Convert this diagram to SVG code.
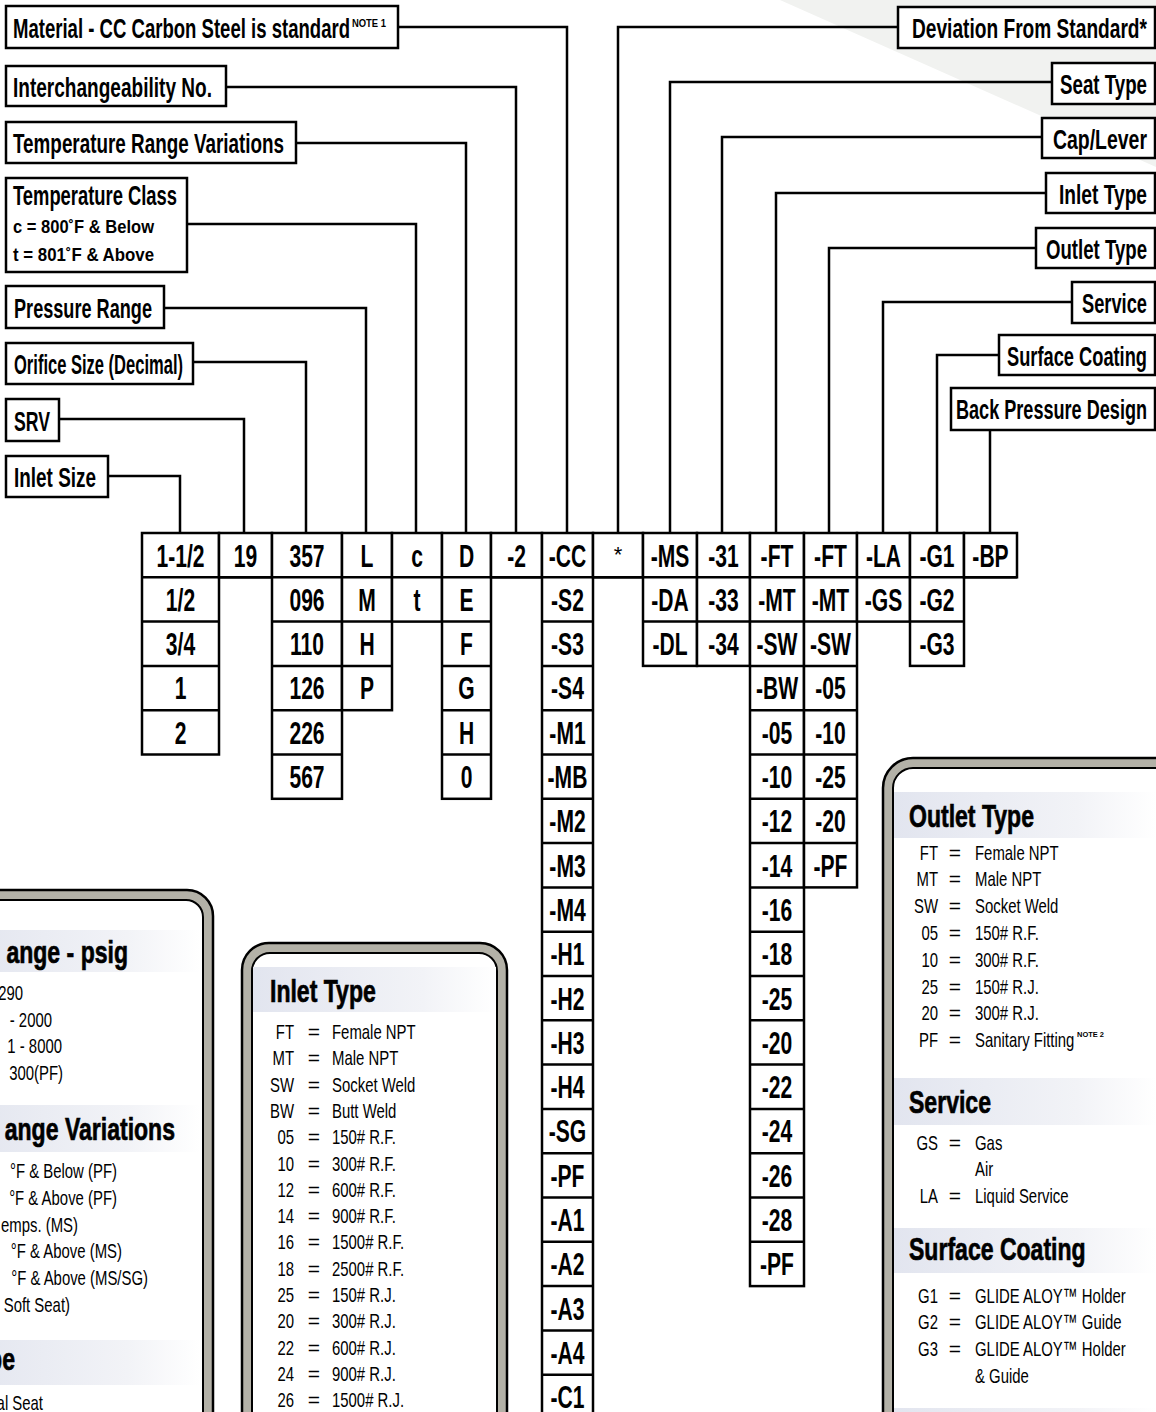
<svg xmlns="http://www.w3.org/2000/svg" width="1156" height="1412" viewBox="0 0 1156 1412">
<defs>
<style>
text{font-family:"Liberation Sans",Arial,sans-serif;fill:#000}
.hb{fill:#fff;stroke:#000;stroke-width:2.5}
.hd{font-weight:bold;font-size:27px}
.sub{font-weight:bold;font-size:19px}
.note{font-weight:bold;font-size:10px}
.cell{font-weight:bold;font-size:31px;text-anchor:middle}
.ast{font-size:22px;text-anchor:middle}
.con{fill:none;stroke:#000;stroke-width:2.5}
.cb{fill:#fff;stroke:#000;stroke-width:2.5}
.div{fill:none;stroke:#000;stroke-width:2.5}
.lo{fill:#b3b1a7;stroke:#000;stroke-width:2.5}
.li{fill:#fff;stroke:#000;stroke-width:2}
.lt{font-weight:bold;font-size:32px;stroke:#000;stroke-width:0.7}
.le{font-size:21px}
.eq{font-size:21px;text-anchor:middle}
.end{text-anchor:end}
.sup{font-weight:bold;font-size:8px}
</style>
<linearGradient id="band" x1="0" y1="0" x2="1" y2="0">
<stop offset="0" stop-color="#e2e5ef"/>
<stop offset="0.7" stop-color="#f2f3f7"/>
<stop offset="1" stop-color="#ffffff"/>
</linearGradient>
</defs>
<rect width="1156" height="1412" fill="#fff"/>
<polygon points="780,0 1156,0 1156,167" fill="#f1f2f0"/>

<g id="connectors">
<path class="con" d="M398 27H567V533"/>
<path class="con" d="M226 87H516V533"/>
<path class="con" d="M296 143H466V533"/>
<path class="con" d="M187 224H416V533"/>
<path class="con" d="M164 308H366V533"/>
<path class="con" d="M193 362H306V533"/>
<path class="con" d="M59 419H244V533"/>
<path class="con" d="M108 476H180V533"/>
<path class="con" d="M898 27H618V533"/>
<path class="con" d="M1052 82H670V533"/>
<path class="con" d="M1042 137H722V533"/>
<path class="con" d="M1046 193H776V533"/>
<path class="con" d="M1036 248H829V533"/>
<path class="con" d="M1072 302H883V533"/>
<path class="con" d="M999 355H937V533"/>
<path class="con" d="M990 430V533"/>
</g>

<g id="hdr-material"><rect class="hb" x="6" y="6" width="392" height="42"/><text class="hd" x="13" y="38" textLength="337" lengthAdjust="spacingAndGlyphs">Material - CC Carbon Steel is standard</text><text class="note" x="352" y="27" textLength="34" lengthAdjust="spacingAndGlyphs">NOTE 1</text></g>
<g id="hdr-interchange"><rect class="hb" x="6" y="66" width="220" height="40"/><text class="hd" x="13" y="97" textLength="199" lengthAdjust="spacingAndGlyphs">Interchangeability No.</text></g>
<g id="hdr-temprange"><rect class="hb" x="6" y="122" width="290" height="41"/><text class="hd" x="13" y="153" textLength="271" lengthAdjust="spacingAndGlyphs">Temperature Range Variations</text></g>
<g id="hdr-tempclass"><rect class="hb" x="6" y="178" width="181" height="94"/><text class="hd" x="13" y="205" textLength="164" lengthAdjust="spacingAndGlyphs">Temperature Class</text><text class="sub" x="13" y="233" textLength="141" lengthAdjust="spacingAndGlyphs">c = 800˚F &amp; Below</text><text class="sub" x="13" y="261" textLength="141" lengthAdjust="spacingAndGlyphs">t = 801˚F &amp; Above</text></g>
<g id="hdr-pressure"><rect class="hb" x="6" y="286" width="158" height="42"/><text class="hd" x="14" y="318" textLength="138" lengthAdjust="spacingAndGlyphs">Pressure Range</text></g>
<g id="hdr-orifice"><rect class="hb" x="6" y="343" width="187" height="41"/><text class="hd" x="14" y="374" textLength="169" lengthAdjust="spacingAndGlyphs">Orifice Size (Decimal)</text></g>
<g id="hdr-srv"><rect class="hb" x="6" y="399" width="53" height="42"/><text class="hd" x="14" y="431" textLength="36" lengthAdjust="spacingAndGlyphs">SRV</text></g>
<g id="hdr-inletsize"><rect class="hb" x="6" y="456" width="102" height="41"/><text class="hd" x="14" y="487" textLength="82" lengthAdjust="spacingAndGlyphs">Inlet Size</text></g>

<g id="hdr-deviation"><rect class="hb" x="898" y="7" width="257" height="41"/><text class="hd" x="912" y="38" textLength="235" lengthAdjust="spacingAndGlyphs">Deviation From Standard*</text></g>
<g id="hdr-seat"><rect class="hb" x="1052" y="63" width="103" height="41"/><text class="hd" x="1060" y="94" textLength="87" lengthAdjust="spacingAndGlyphs">Seat Type</text></g>
<g id="hdr-cap"><rect class="hb" x="1042" y="118" width="113" height="40"/><text class="hd" x="1053" y="149" textLength="94" lengthAdjust="spacingAndGlyphs">Cap/Lever</text></g>
<g id="hdr-inlettype"><rect class="hb" x="1046" y="173" width="109" height="40"/><text class="hd" x="1059" y="204" textLength="88" lengthAdjust="spacingAndGlyphs">Inlet Type</text></g>
<g id="hdr-outlettype"><rect class="hb" x="1036" y="228" width="119" height="40"/><text class="hd" x="1046" y="259" textLength="101" lengthAdjust="spacingAndGlyphs">Outlet Type</text></g>
<g id="hdr-service"><rect class="hb" x="1072" y="282" width="83" height="41"/><text class="hd" x="1082" y="313" textLength="65" lengthAdjust="spacingAndGlyphs">Service</text></g>
<g id="hdr-surface"><rect class="hb" x="999" y="335" width="156" height="40"/><text class="hd" x="1007" y="366" textLength="140" lengthAdjust="spacingAndGlyphs">Surface Coating</text></g>
<g id="hdr-backpressure"><rect class="hb" x="951" y="388" width="204" height="42"/><text class="hd" x="956" y="419" textLength="191" lengthAdjust="spacingAndGlyphs">Back Pressure Design</text></g>

<g id="code-table">
<rect class="cb" x="142" y="533" width="77" height="221.5"/>
<rect class="cb" x="219" y="533" width="53" height="44.3"/>
<rect class="cb" x="272" y="533" width="70" height="265.8"/>
<rect class="cb" x="342" y="533" width="50" height="177.2"/>
<rect class="cb" x="392" y="533" width="50" height="88.6"/>
<rect class="cb" x="442" y="533" width="49" height="265.8"/>
<rect class="cb" x="491" y="533" width="51" height="44.3"/>
<rect class="cb" x="542" y="533" width="51" height="886"/>
<rect class="cb" x="593" y="533" width="50" height="44.3"/>
<rect class="cb" x="643" y="533" width="54" height="132.9"/>
<rect class="cb" x="697" y="533" width="53" height="132.9"/>
<rect class="cb" x="750" y="533" width="54" height="753.1"/>
<rect class="cb" x="804" y="533" width="53" height="354.4"/>
<rect class="cb" x="857" y="533" width="53" height="88.6"/>
<rect class="cb" x="910" y="533" width="54" height="132.9"/>
<rect class="cb" x="964" y="533" width="53" height="44.3"/>
<path class="div" d="M142 577.3H1017
M142 621.6H219M272 621.6H392M442 621.6H491M542 621.6H593M643 621.6H857M910 621.6H964
M142 665.9H219M272 665.9H392M442 665.9H491M542 665.9H593M750 665.9H857
M142 710.2H219M272 710.2H342M442 710.2H491M542 710.2H593M750 710.2H857
M272 754.5H342M442 754.5H491M542 754.5H593M750 754.5H857
M542 798.8H593M750 798.8H857
M542 843.1H593M750 843.1H857
M542 887.4H593M750 887.4H804
M542 931.7H593M750 931.7H804
M542 976H593M750 976H804
M542 1020.3H593M750 1020.3H804
M542 1064.6H593M750 1064.6H804
M542 1108.9H593M750 1108.9H804
M542 1153.2H593M750 1153.2H804
M542 1197.5H593M750 1197.5H804
M542 1241.8H593M750 1241.8H804
M542 1286.1H593M542 1330.4H593M542 1374.7H593"/>
<text class="cell" transform="translate(180.5,566.5) scale(.68,1)">1-1/2</text>
<text class="cell" transform="translate(180.5,610.8) scale(.68,1)">1/2</text>
<text class="cell" transform="translate(180.5,655.1) scale(.68,1)">3/4</text>
<text class="cell" transform="translate(180.5,699.4) scale(.68,1)">1</text>
<text class="cell" transform="translate(180.5,743.7) scale(.68,1)">2</text>
<text class="cell" transform="translate(245.5,566.5) scale(.68,1)">19</text>
<text class="cell" transform="translate(307,566.5) scale(.68,1)">357</text>
<text class="cell" transform="translate(307,610.8) scale(.68,1)">096</text>
<text class="cell" transform="translate(307,655.1) scale(.68,1)">110</text>
<text class="cell" transform="translate(307,699.4) scale(.68,1)">126</text>
<text class="cell" transform="translate(307,743.7) scale(.68,1)">226</text>
<text class="cell" transform="translate(307,788) scale(.68,1)">567</text>
<text class="cell" transform="translate(367,566.5) scale(.68,1)">L</text>
<text class="cell" transform="translate(367,610.8) scale(.68,1)">M</text>
<text class="cell" transform="translate(367,655.1) scale(.68,1)">H</text>
<text class="cell" transform="translate(367,699.4) scale(.68,1)">P</text>
<text class="cell" transform="translate(417,566.5) scale(.68,1)">c</text>
<text class="cell" transform="translate(417,610.8) scale(.68,1)">t</text>
<text class="cell" transform="translate(466.5,566.5) scale(.68,1)">D</text>
<text class="cell" transform="translate(466.5,610.8) scale(.68,1)">E</text>
<text class="cell" transform="translate(466.5,655.1) scale(.68,1)">F</text>
<text class="cell" transform="translate(466.5,699.4) scale(.68,1)">G</text>
<text class="cell" transform="translate(466.5,743.7) scale(.68,1)">H</text>
<text class="cell" transform="translate(466.5,788) scale(.68,1)">0</text>
<text class="cell" transform="translate(516.5,566.5) scale(.68,1)">-2</text>
<text class="cell" transform="translate(567.5,566.5) scale(.68,1)">-CC</text>
<text class="cell" transform="translate(567.5,610.8) scale(.68,1)">-S2</text>
<text class="cell" transform="translate(567.5,655.1) scale(.68,1)">-S3</text>
<text class="cell" transform="translate(567.5,699.4) scale(.68,1)">-S4</text>
<text class="cell" transform="translate(567.5,743.7) scale(.68,1)">-M1</text>
<text class="cell" transform="translate(567.5,788) scale(.68,1)">-MB</text>
<text class="cell" transform="translate(567.5,832.3) scale(.68,1)">-M2</text>
<text class="cell" transform="translate(567.5,876.6) scale(.68,1)">-M3</text>
<text class="cell" transform="translate(567.5,920.9) scale(.68,1)">-M4</text>
<text class="cell" transform="translate(567.5,965.2) scale(.68,1)">-H1</text>
<text class="cell" transform="translate(567.5,1009.5) scale(.68,1)">-H2</text>
<text class="cell" transform="translate(567.5,1053.8) scale(.68,1)">-H3</text>
<text class="cell" transform="translate(567.5,1098.1) scale(.68,1)">-H4</text>
<text class="cell" transform="translate(567.5,1142.4) scale(.68,1)">-SG</text>
<text class="cell" transform="translate(567.5,1186.7) scale(.68,1)">-PF</text>
<text class="cell" transform="translate(567.5,1231) scale(.68,1)">-A1</text>
<text class="cell" transform="translate(567.5,1275.3) scale(.68,1)">-A2</text>
<text class="cell" transform="translate(567.5,1319.6) scale(.68,1)">-A3</text>
<text class="cell" transform="translate(567.5,1363.9) scale(.68,1)">-A4</text>
<text class="cell" transform="translate(567.5,1408.2) scale(.68,1)">-C1</text>
<text class="ast" x="618" y="562">*</text>
<text class="cell" transform="translate(670,566.5) scale(.68,1)">-MS</text>
<text class="cell" transform="translate(670,610.8) scale(.68,1)">-DA</text>
<text class="cell" transform="translate(670,655.1) scale(.68,1)">-DL</text>
<text class="cell" transform="translate(723.5,566.5) scale(.68,1)">-31</text>
<text class="cell" transform="translate(723.5,610.8) scale(.68,1)">-33</text>
<text class="cell" transform="translate(723.5,655.1) scale(.68,1)">-34</text>
<text class="cell" transform="translate(777,566.5) scale(.68,1)">-FT</text>
<text class="cell" transform="translate(777,610.8) scale(.68,1)">-MT</text>
<text class="cell" transform="translate(777,655.1) scale(.68,1)">-SW</text>
<text class="cell" transform="translate(777,699.4) scale(.68,1)">-BW</text>
<text class="cell" transform="translate(777,743.7) scale(.68,1)">-05</text>
<text class="cell" transform="translate(777,788) scale(.68,1)">-10</text>
<text class="cell" transform="translate(777,832.3) scale(.68,1)">-12</text>
<text class="cell" transform="translate(777,876.6) scale(.68,1)">-14</text>
<text class="cell" transform="translate(777,920.9) scale(.68,1)">-16</text>
<text class="cell" transform="translate(777,965.2) scale(.68,1)">-18</text>
<text class="cell" transform="translate(777,1009.5) scale(.68,1)">-25</text>
<text class="cell" transform="translate(777,1053.8) scale(.68,1)">-20</text>
<text class="cell" transform="translate(777,1098.1) scale(.68,1)">-22</text>
<text class="cell" transform="translate(777,1142.4) scale(.68,1)">-24</text>
<text class="cell" transform="translate(777,1186.7) scale(.68,1)">-26</text>
<text class="cell" transform="translate(777,1231) scale(.68,1)">-28</text>
<text class="cell" transform="translate(777,1275.3) scale(.68,1)">-PF</text>
<text class="cell" transform="translate(830.5,566.5) scale(.68,1)">-FT</text>
<text class="cell" transform="translate(830.5,610.8) scale(.68,1)">-MT</text>
<text class="cell" transform="translate(830.5,655.1) scale(.68,1)">-SW</text>
<text class="cell" transform="translate(830.5,699.4) scale(.68,1)">-05</text>
<text class="cell" transform="translate(830.5,743.7) scale(.68,1)">-10</text>
<text class="cell" transform="translate(830.5,788) scale(.68,1)">-25</text>
<text class="cell" transform="translate(830.5,832.3) scale(.68,1)">-20</text>
<text class="cell" transform="translate(830.5,876.6) scale(.68,1)">-PF</text>
<text class="cell" transform="translate(883.5,566.5) scale(.68,1)">-LA</text>
<text class="cell" transform="translate(883.5,610.8) scale(.68,1)">-GS</text>
<text class="cell" transform="translate(937,566.5) scale(.68,1)">-G1</text>
<text class="cell" transform="translate(937,610.8) scale(.68,1)">-G2</text>
<text class="cell" transform="translate(937,655.1) scale(.68,1)">-G3</text>
<text class="cell" transform="translate(990.5,566.5) scale(.68,1)">-BP</text>
</g>

<g id="legend-left">
<rect class="lo" x="-40" y="890" width="253" height="600" rx="26"/>
<rect class="li" x="-40" y="900" width="243" height="600" rx="17"/>
<rect x="-40" y="930" width="240" height="42" fill="url(#band)"/>
<rect x="-40" y="1105" width="240" height="47" fill="url(#band)"/>
<rect x="-40" y="1340" width="240" height="45" fill="url(#band)"/>
<text class="lt end" transform="translate(128,963) scale(.72,1)">ange - psig</text>
<text class="le end" transform="translate(23,1000) scale(.71,1)">290</text>
<text class="le end" transform="translate(52,1027) scale(.71,1)">- 2000</text>
<text class="le end" transform="translate(62,1053) scale(.71,1)">1 - 8000</text>
<text class="le end" transform="translate(63,1080) scale(.71,1)">300(PF)</text>
<text class="lt end" transform="translate(175,1140) scale(.72,1)">ange Variations</text>
<text class="le end" transform="translate(117,1178) scale(.71,1)">°F &amp; Below (PF)</text>
<text class="le end" transform="translate(117,1205) scale(.71,1)">°F &amp; Above (PF)</text>
<text class="le end" transform="translate(78,1232) scale(.71,1)">emps. (MS)</text>
<text class="le end" transform="translate(122,1258) scale(.71,1)">°F &amp; Above (MS)</text>
<text class="le end" transform="translate(148,1285) scale(.71,1)">°F &amp; Above (MS/SG)</text>
<text class="le end" transform="translate(70,1312) scale(.71,1)">Soft Seat)</text>
<text class="lt end" transform="translate(15,1370) scale(.72,1)">pe</text>
<text class="le end" transform="translate(43,1410) scale(.71,1)">al Seat</text>
</g>

<g id="legend-inlet">
<rect class="lo" x="242" y="943" width="265" height="520" rx="27"/>
<rect class="li" x="252" y="953" width="245" height="520" rx="18"/>
<rect x="253" y="967" width="243" height="45" fill="url(#band)"/>
<text class="lt" transform="translate(270,1002) scale(.72,1)">Inlet Type</text>
<g>
<text class="le end" transform="translate(294,1039) scale(.71,1)">FT</text><text class="eq" x="314" y="1039">=</text><text class="le" transform="translate(332,1039) scale(.71,1)">Female NPT</text>
<text class="le end" transform="translate(294,1065.3) scale(.71,1)">MT</text><text class="eq" x="314" y="1065.3">=</text><text class="le" transform="translate(332,1065.3) scale(.71,1)">Male NPT</text>
<text class="le end" transform="translate(294,1091.6) scale(.71,1)">SW</text><text class="eq" x="314" y="1091.6">=</text><text class="le" transform="translate(332,1091.6) scale(.71,1)">Socket Weld</text>
<text class="le end" transform="translate(294,1117.9) scale(.71,1)">BW</text><text class="eq" x="314" y="1117.9">=</text><text class="le" transform="translate(332,1117.9) scale(.71,1)">Butt Weld</text>
<text class="le end" transform="translate(294,1144.2) scale(.71,1)">05</text><text class="eq" x="314" y="1144.2">=</text><text class="le" transform="translate(332,1144.2) scale(.71,1)">150# R.F.</text>
<text class="le end" transform="translate(294,1170.5) scale(.71,1)">10</text><text class="eq" x="314" y="1170.5">=</text><text class="le" transform="translate(332,1170.5) scale(.71,1)">300# R.F.</text>
<text class="le end" transform="translate(294,1196.8) scale(.71,1)">12</text><text class="eq" x="314" y="1196.8">=</text><text class="le" transform="translate(332,1196.8) scale(.71,1)">600# R.F.</text>
<text class="le end" transform="translate(294,1223.1) scale(.71,1)">14</text><text class="eq" x="314" y="1223.1">=</text><text class="le" transform="translate(332,1223.1) scale(.71,1)">900# R.F.</text>
<text class="le end" transform="translate(294,1249.4) scale(.71,1)">16</text><text class="eq" x="314" y="1249.4">=</text><text class="le" transform="translate(332,1249.4) scale(.71,1)">1500# R.F.</text>
<text class="le end" transform="translate(294,1275.7) scale(.71,1)">18</text><text class="eq" x="314" y="1275.7">=</text><text class="le" transform="translate(332,1275.7) scale(.71,1)">2500# R.F.</text>
<text class="le end" transform="translate(294,1302) scale(.71,1)">25</text><text class="eq" x="314" y="1302">=</text><text class="le" transform="translate(332,1302) scale(.71,1)">150# R.J.</text>
<text class="le end" transform="translate(294,1328.3) scale(.71,1)">20</text><text class="eq" x="314" y="1328.3">=</text><text class="le" transform="translate(332,1328.3) scale(.71,1)">300# R.J.</text>
<text class="le end" transform="translate(294,1354.6) scale(.71,1)">22</text><text class="eq" x="314" y="1354.6">=</text><text class="le" transform="translate(332,1354.6) scale(.71,1)">600# R.J.</text>
<text class="le end" transform="translate(294,1380.9) scale(.71,1)">24</text><text class="eq" x="314" y="1380.9">=</text><text class="le" transform="translate(332,1380.9) scale(.71,1)">900# R.J.</text>
<text class="le end" transform="translate(294,1407.2) scale(.71,1)">26</text><text class="eq" x="314" y="1407.2">=</text><text class="le" transform="translate(332,1407.2) scale(.71,1)">1500# R.J.</text>
</g>
</g>

<g id="legend-right">
<rect class="lo" x="883" y="758" width="320" height="700" rx="30"/>
<rect class="li" x="893" y="768" width="310" height="700" rx="20"/>
<rect x="894" y="792" width="262" height="46" fill="url(#band)"/>
<rect x="894" y="1078" width="262" height="47" fill="url(#band)"/>
<rect x="894" y="1228" width="262" height="45" fill="url(#band)"/>
<rect x="894" y="1408" width="262" height="45" fill="url(#band)"/>
<text class="lt" transform="translate(909,827) scale(.72,1)">Outlet Type</text>
<text class="le end" transform="translate(938,859.5) scale(.71,1)">FT</text><text class="eq" x="955" y="859.5">=</text><text class="le" transform="translate(975,859.5) scale(.71,1)">Female NPT</text>
<text class="le end" transform="translate(938,886.3) scale(.71,1)">MT</text><text class="eq" x="955" y="886.3">=</text><text class="le" transform="translate(975,886.3) scale(.71,1)">Male NPT</text>
<text class="le end" transform="translate(938,913.1) scale(.71,1)">SW</text><text class="eq" x="955" y="913.1">=</text><text class="le" transform="translate(975,913.1) scale(.71,1)">Socket Weld</text>
<text class="le end" transform="translate(938,940) scale(.71,1)">05</text><text class="eq" x="955" y="940">=</text><text class="le" transform="translate(975,940) scale(.71,1)">150# R.F.</text>
<text class="le end" transform="translate(938,966.8) scale(.71,1)">10</text><text class="eq" x="955" y="966.8">=</text><text class="le" transform="translate(975,966.8) scale(.71,1)">300# R.F.</text>
<text class="le end" transform="translate(938,993.6) scale(.71,1)">25</text><text class="eq" x="955" y="993.6">=</text><text class="le" transform="translate(975,993.6) scale(.71,1)">150# R.J.</text>
<text class="le end" transform="translate(938,1020.4) scale(.71,1)">20</text><text class="eq" x="955" y="1020.4">=</text><text class="le" transform="translate(975,1020.4) scale(.71,1)">300# R.J.</text>
<text class="le end" transform="translate(938,1047.2) scale(.71,1)">PF</text><text class="eq" x="955" y="1047.2">=</text><text class="le" transform="translate(975,1047.2) scale(.71,1)">Sanitary Fitting</text><text class="sup" x="1077" y="1037" textLength="27" lengthAdjust="spacingAndGlyphs">NOTE 2</text>
<text class="lt" transform="translate(909,1113) scale(.72,1)">Service</text>
<text class="le end" transform="translate(938,1150) scale(.71,1)">GS</text><text class="eq" x="955" y="1150">=</text><text class="le" transform="translate(975,1150) scale(.71,1)">Gas</text>
<text class="le" transform="translate(975,1176) scale(.71,1)">Air</text>
<text class="le end" transform="translate(938,1203) scale(.71,1)">LA</text><text class="eq" x="955" y="1203">=</text><text class="le" transform="translate(975,1203) scale(.71,1)">Liquid Service</text>
<text class="lt" transform="translate(909,1260) scale(.72,1)">Surface Coating</text>
<text class="le end" transform="translate(938,1303) scale(.71,1)">G1</text><text class="eq" x="955" y="1303">=</text><text class="le" transform="translate(975,1303) scale(.71,1)">GLIDE ALOY™ Holder</text>
<text class="le end" transform="translate(938,1329) scale(.71,1)">G2</text><text class="eq" x="955" y="1329">=</text><text class="le" transform="translate(975,1329) scale(.71,1)">GLIDE ALOY™ Guide</text>
<text class="le end" transform="translate(938,1356) scale(.71,1)">G3</text><text class="eq" x="955" y="1356">=</text><text class="le" transform="translate(975,1356) scale(.71,1)">GLIDE ALOY™ Holder</text>
<text class="le" transform="translate(975,1383) scale(.71,1)">&amp; Guide</text>
</g>
</svg>
